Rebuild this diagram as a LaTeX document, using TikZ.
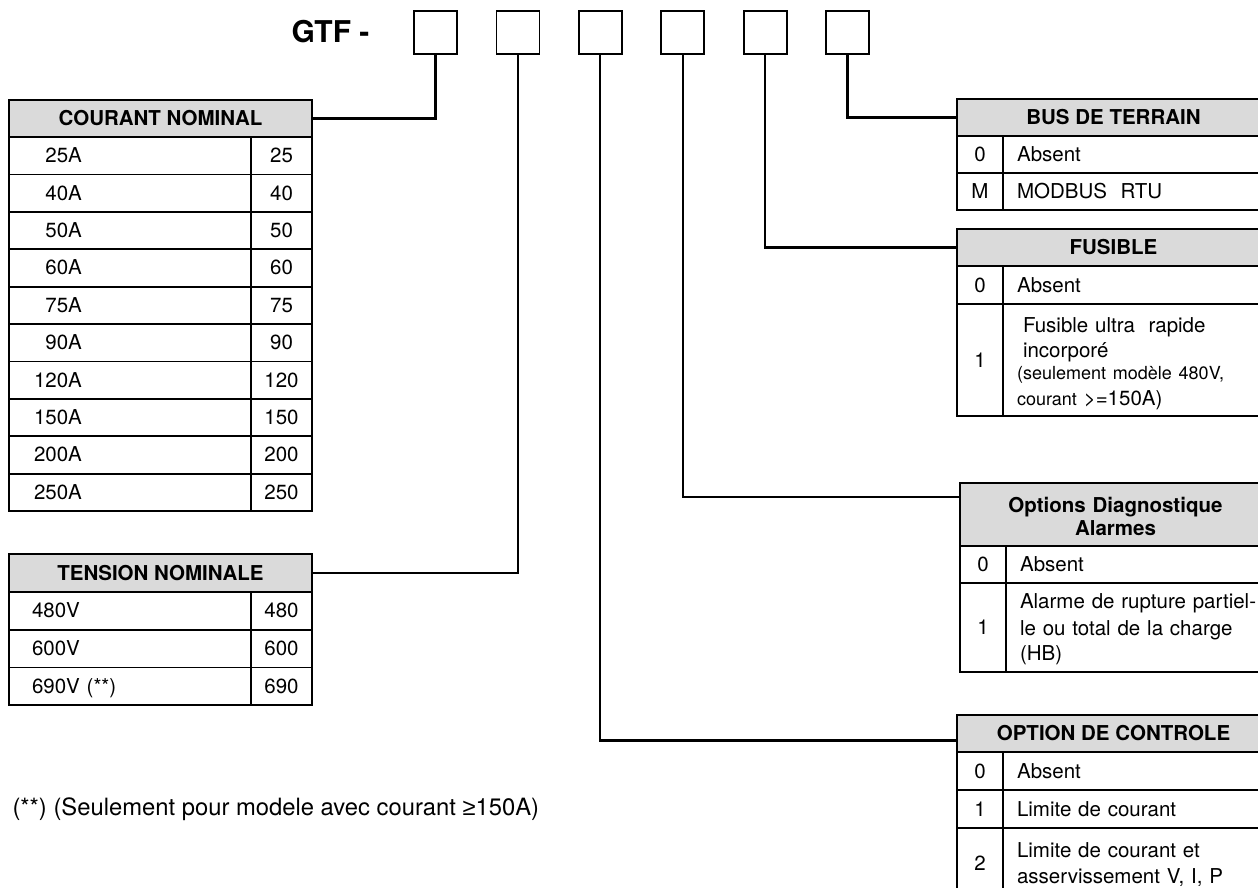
\documentclass[tikz,border=0pt]{standalone}
\usepackage{fontspec}
\setmainfont{TeX Gyre Heros}
\newfontfamily\geqfont{Liberation Sans}
\usetikzlibrary{positioning}
\definecolor{hdrgray}{RGB}{218,218,218}
\newcommand\cellfont{\fontsize{20.5}{25}\selectfont}
\newcommand\minifont{\fontsize{18}{22}\selectfont}
\begin{document}
\begin{tikzpicture}[x=1pt,y=-1pt,every node/.style={font=\cellfont},wire/.style={line width=2.2pt},codebox/.style={draw,line width=1.8pt,minimum size=43pt,inner sep=0pt,outer sep=0pt},hdr/.style={draw,fill=hdrgray,line width=1.8pt,font=\cellfont\bfseries,minimum height=37pt,outer sep=0pt,anchor=north west,text height=14pt,text depth=0pt},cell/.style={draw,line width=1.8pt,minimum height=37.4pt,outer sep=0pt,inner ysep=0pt,text height=14pt,text depth=0pt},lcell/.style={cell,text width=192pt,inner xsep=25pt,align=left},vcell/.style={cell,minimum width=61pt,inner xsep=0pt},ncell/.style={cell,minimum width=46pt,inner xsep=0pt},tcell/.style={cell,text width=239pt,inner xsep=14pt,align=left}]
\useasboundingbox (0,0) rectangle (1258,888);\clip (0,0) rectangle (1258,888);
\node[anchor=base west,font=\fontsize{30}{36}\selectfont\bfseries] (gtf) at (288,43) {GTF -};
\node[codebox] (c1) at (435.5,32.5) {};\node[codebox,right=39.4pt of c1] (c2) {};\node[codebox,right=39.4pt of c2] (c3) {};
\node[codebox,right=39.4pt of c3] (c4) {};\node[codebox,right=39.4pt of c4] (c5) {};\node[codebox,right=39.4pt of c5] (c6) {};
\node[hdr,minimum width=303pt] (h1) at (9,100) {COURANT NOMINAL};
\node[lcell,anchor=north west] (a1) at (9,137) {\phantom{0}25A};\node[vcell,right=0pt of a1] (n1) {25};
\node[lcell,below=0pt of a1] (a2) {\phantom{0}40A};\node[vcell,right=0pt of a2] (n2) {40};
\node[lcell,below=0pt of a2] (a3) {\phantom{0}50A};\node[vcell,right=0pt of a3] (n3) {50};
\node[lcell,below=0pt of a3] (a4) {\phantom{0}60A};\node[vcell,right=0pt of a4] (n4) {60};
\node[lcell,below=0pt of a4] (a5) {\phantom{0}75A};\node[vcell,right=0pt of a5] (n5) {75};
\node[lcell,below=0pt of a5] (a6) {\phantom{0}90A};\node[vcell,right=0pt of a6] (n6) {90};
\node[lcell,below=0pt of a6] (a7) {120A};\node[vcell,right=0pt of a7] (n7) {120};
\node[lcell,below=0pt of a7] (a8) {150A};\node[vcell,right=0pt of a8] (n8) {150};
\node[lcell,below=0pt of a8] (a9) {200A};\node[vcell,right=0pt of a9] (n9) {200};
\node[lcell,below=0pt of a9] (a10) {250A};\node[vcell,right=0pt of a10] (n10) {250};
\node[hdr,minimum width=303pt,minimum height=38pt] (h2) at (9,554) {TENSION NOMINALE};
\node[lcell,text width=196pt,inner xsep=23pt,minimum height=37.7pt,anchor=north west] (t1) at (9,592) {480V};\node[vcell,minimum height=37.7pt,right=0pt of t1] (u1) {480};
\node[lcell,text width=196pt,inner xsep=23pt,minimum height=37.7pt,below=0pt of t1] (t2) {600V};\node[vcell,minimum height=37.7pt,right=0pt of t2] (u2) {600};
\node[lcell,text width=196pt,inner xsep=23pt,minimum height=37.7pt,below=0pt of t2] (t3) {690V (**)};\node[vcell,minimum height=37.7pt,right=0pt of t3] (u3) {690};
\node[hdr,minimum width=313pt] (h6) at (957,99) {BUS DE TERRAIN};
\node[ncell,minimum height=37pt,anchor=north west] (b0) at (957,136) {0};\node[tcell,minimum height=37pt,right=0pt of b0] (bt0) {Absent};
\node[ncell,minimum height=37pt,below=0pt of b0] (b1) {M};\node[tcell,minimum height=37pt,right=0pt of b1] (bt1) {MODBUS\ \ RTU};
\node[hdr,minimum width=313pt] (h5) at (957,229) {FUSIBLE};
\node[ncell,minimum height=38pt,anchor=north west] (f0) at (957,266) {0};\node[tcell,minimum height=38pt,right=0pt of f0] (ft0) {Absent};
\node[ncell,minimum height=112pt,below=0pt of f0] (f1) {1};\node[tcell,minimum height=112pt,text depth=70pt,right=0pt of f1] (ft1) {\hspace*{6pt}Fusible ultra\ \ rapide\\\hspace*{6pt}incorporé\\[-3pt]{\minifont(seulement modèle 480V,}\\[1pt]{\minifont courant} >=150A)};
\node[hdr,minimum width=311pt,minimum height=63pt,text width=301pt,inner xsep=5pt,align=center,text depth=19pt] (h4) at (960,483) {Options Diagnostique\\[-2pt]Alarmes};
\node[ncell,minimum height=37pt,anchor=north west] (o0) at (960,546) {0};\node[tcell,text width=237pt,minimum height=37pt,right=0pt of o0] (ot0) {Absent};
\node[ncell,minimum height=89pt,below=0pt of o0] (o1) {1};\node[tcell,text width=237pt,minimum height=89pt,text depth=53pt,right=0pt of o1] (ot1) {Alarme de rupture partiel-\\[2pt]le ou total de la charge\\(HB)};
\node[hdr,minimum width=313pt] (h3) at (957,715) {OPTION DE CONTROLE};
\node[ncell,minimum height=38pt,anchor=north west] (k0) at (957,752) {0};\node[tcell,minimum height=38pt,right=0pt of k0] (kt0) {Absent};
\node[ncell,minimum height=38pt,below=0pt of k0] (k1) {1};\node[tcell,minimum height=38pt,right=0pt of k1] (kt1) {Limite de courant};
\node[ncell,minimum height=70pt,below=0pt of k1] (k2) {2};\node[tcell,minimum height=70pt,text depth=26pt,right=0pt of k2] (kt2) {Limite de courant et\\[1pt]asservissement V, I, P};
\draw[wire] (c1.south) |- (h1.east);\draw[wire] (c2.south) |- (h2.east);\draw[wire] (c3.south) |- ([yshift=-7pt]h3.west);
\draw[wire] (c4.south) |- ([yshift=17.5pt]h4.west);\draw[wire] (c5.south) |- (h5.west);\draw[wire] (c6.south) |- (h6.west);
\node[anchor=base west,font=\fontsize{23.8}{28}\selectfont] (note) at (9,815) {(**) (Seulement pour modele avec courant {\geqfont ≥}150A)};
\end{tikzpicture}
\end{document}
